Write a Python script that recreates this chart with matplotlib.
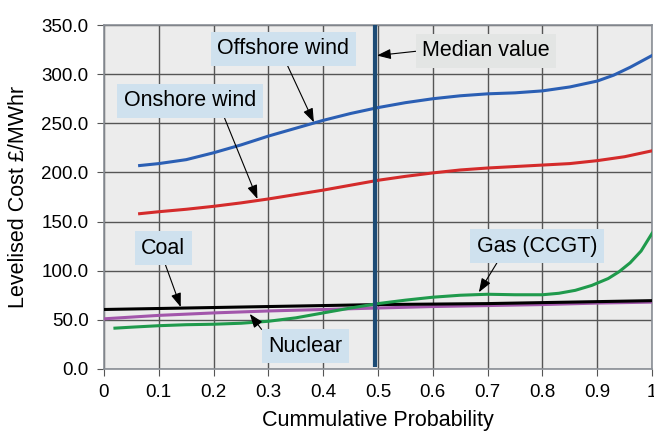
import matplotlib
matplotlib.use("Agg")
import matplotlib.pyplot as plt

plt.rcParams["font.family"] = ["Liberation Sans", "DejaVu Sans"]

# ---------------------------------------------------------------------------
# Data
# ---------------------------------------------------------------------------
offshore_x = [0.065, 0.1, 0.15, 0.2, 0.25, 0.3, 0.35, 0.4, 0.45, 0.5, 0.55,
              0.6, 0.65, 0.7, 0.75, 0.8, 0.85, 0.9, 0.93, 0.96, 1.0]
offshore_y = [207, 209, 213, 220, 228, 237, 245, 253, 260, 266, 271,
              275, 278, 280, 281, 283, 287, 293, 299, 307, 319]

onshore_x = [0.065, 0.1, 0.15, 0.2, 0.25, 0.3, 0.35, 0.4, 0.45, 0.5, 0.55,
             0.6, 0.65, 0.7, 0.75, 0.8, 0.85, 0.9, 0.95, 1.0]
onshore_y = [158, 160, 162.5, 165.5, 169, 173, 177.5, 182, 187, 192, 196,
             199.5, 202.5, 204.5, 206, 207.5, 209, 212, 216, 222]

coal_x = [0, 0.1, 0.2, 0.3, 0.4, 0.5, 0.6, 0.7, 0.8, 0.9, 1.0]
coal_y = [60.5, 61.5, 62.5, 63.5, 64.5, 65.5, 66, 66.5, 67.5, 68.5, 69.5]

nuclear_x = coal_x
nuclear_y = [51, 54.5, 57, 59, 60.5, 62, 63.5, 64.5, 65.5, 67, 68]

gas_x = [0.02, 0.05, 0.1, 0.15, 0.2, 0.25, 0.3, 0.35, 0.4, 0.45, 0.5, 0.55,
         0.6, 0.65, 0.7, 0.75, 0.8, 0.83, 0.86, 0.89, 0.92, 0.94, 0.96,
         0.98, 1.0]
gas_y = [41.5, 42.5, 44, 45, 45.5, 46.5, 48.5, 52, 57, 62, 66.5, 70,
         73, 75, 76, 75.5, 75.5, 77, 80, 85, 92, 99, 108, 120, 138]

median_x = 0.494

x_ticks = [0, 0.1, 0.2, 0.3, 0.4, 0.5, 0.6, 0.7, 0.8, 0.9, 1.0]
x_tick_labels = ["0", "0.1", "0.2", "0.3", "0.4", "0.5", "0.6", "0.7", "0.8", "0.9", "1"]
y_ticks = [0, 50, 100, 150, 200, 250, 300, 350]
y_tick_labels = [f"{v:.1f}" for v in y_ticks]

BOX_BLUE = "#cfe1ee"
BOX_GREY = "#e3e5e4"

fig = plt.figure(figsize=(6.54, 4.32), dpi=100)
ax = fig.add_axes([0.159, 0.146, 0.838, 0.796])
ax.set_facecolor("#ececec")

ax.plot(offshore_x, offshore_y, color="#2b5fb4", lw=2.2, zorder=4)
ax.plot(onshore_x, onshore_y, color="#d42b2b", lw=2.2, zorder=4)
ax.plot(nuclear_x, nuclear_y, color="#a256ab", lw=2.2, zorder=3)
ax.plot(coal_x, coal_y, color="black", lw=2.2, zorder=4)
ax.plot(gas_x, gas_y, color="#1f9a4c", lw=2.2, zorder=5)
ax.vlines(median_x, 2, 350, color="#1c4b75", lw=3.0, zorder=6)

ax.set_xlim(0, 1)
ax.set_ylim(0, 350)
ax.set_xticks(x_ticks)
ax.set_xticklabels(x_tick_labels)
ax.set_yticks(y_ticks)
ax.set_yticklabels(y_tick_labels)
ax.tick_params(labelsize=13.5, direction="out", length=5, color="#555555", pad=6)
ax.grid(True, color="#555555", lw=1.0)
ax.set_axisbelow(True)
for s in ax.spines.values():
    s.set_color("#8a8f96")
    s.set_linewidth(1.2)

ax.set_xlabel("Cummulative Probability", fontsize=15.5, labelpad=6)
ax.set_ylabel("Levelised Cost £/MWhr", fontsize=15.5, labelpad=9)

# thin shaft with a narrow filled head, like the original callouts
arrow = dict(arrowstyle="-|>,head_length=0.6,head_width=0.22", color="black",
             lw=0.8, mutation_scale=14, shrinkA=0, shrinkB=0)


def label(text, xy, xytext, relpos, fc=BOX_BLUE):
    ax.annotate(text, xy=xy, xytext=xytext, fontsize=15.5, ha="center",
                va="center", zorder=8,
                bbox=dict(boxstyle="square,pad=0.3", fc=fc, ec="none"),
                arrowprops=dict(arrow, relpos=relpos))


label("Offshore wind", (0.383, 251), (0.327, 326), (0.51, 0))
label("Onshore wind", (0.28, 173), (0.157, 273), (0.74, 0))
label("Median value", (median_x + 0.004, 319), (0.697, 324), (0, 0.5), fc=BOX_GREY)
label("Coal", (0.14, 63), (0.108, 123), (0.5, 0))
label("Nuclear", (0.266, 56), (0.367, 23), (0.04, 0.72))
label("Gas (CCGT)", (0.684, 78), (0.79, 125), (0.2, 0))

fig.savefig("out.png", dpi=100)
